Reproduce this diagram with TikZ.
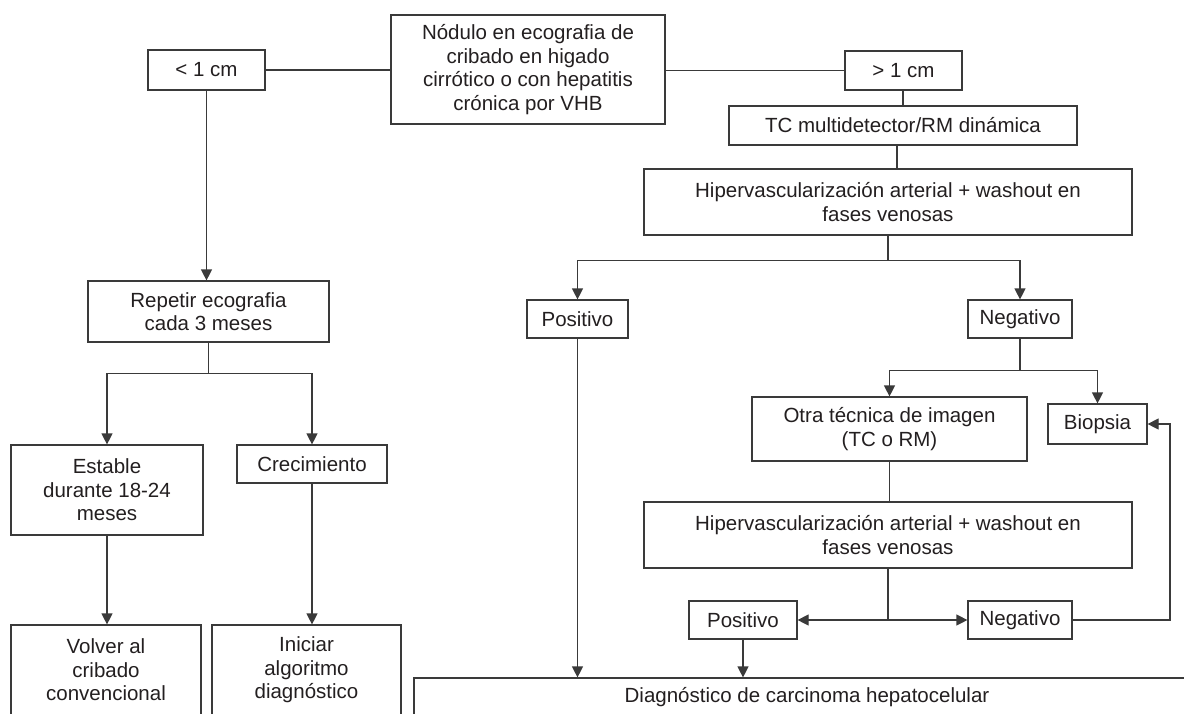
\documentclass[tikz,border=0pt]{standalone}
\usepackage{fontspec}
\setmainfont{Liberation Sans}
\usetikzlibrary{arrows.meta}
\definecolor{ink}{HTML}{231F20}
\definecolor{edge}{HTML}{3A3A3A}
\begin{document}
\begin{tikzpicture}[x=1pt,y=-1pt,
  box/.style={draw=edge,line width=1.2pt,rectangle,inner sep=0pt,align=center,
    text=ink,font=\fontsize{20.5}{23.5}\selectfont},
  link/.style={draw=edge,line width=1.2pt},
  arr/.style={link,-{Triangle[length=11pt,width=11pt]}}]
\useasboundingbox (0,0) rectangle (1184,713);
\clip (0,0) rectangle (1184,713);
\fill[white] (0,0) rectangle (1184,713);

% boxes: centre, width, height
\node[box,minimum width=274,minimum height=109] (top) at (528,69.5)
  {Nódulo en ecografia de\\cribado en higado\\cirrótico o con hepatitis\\crónica por VHB};
\node[box,minimum width=117,minimum height=40] (lt) at (206.5,70) {< 1 cm};
\node[box,minimum width=117,minimum height=39] (gt) at (903.5,70.5) {> 1 cm};
\node[box,minimum width=348,minimum height=39] (tc) at (903,125.5) {TC multidetector/RM dinámica};
\node[box,minimum width=488,minimum height=66] (hipa) at (888,202)
  {Hipervascularización arterial + washout en\\fases venosas};
\node[box,minimum width=101,minimum height=38] (posa) at (577.5,319) {Positivo};
\node[box,minimum width=104,minimum height=38] (nega) at (1020,319) {Negativo};
\node[box,minimum width=275,minimum height=64] (otra) at (889.5,429)
  {Otra técnica de imagen\\(TC o RM)};
\node[box,minimum width=99,minimum height=40] (bio) at (1097.5,424) {Biopsia};
\node[box,minimum width=488,minimum height=66] (hipb) at (888,535)
  {Hipervascularización arterial + washout en\\fases venosas};
\node[box,minimum width=108,minimum height=38] (posb) at (743,620) {Positivo};
\node[box,minimum width=104,minimum height=38] (negb) at (1020,620) {Negativo};
\node[box,minimum width=786,minimum height=38] (diag) at (807,697)
  {Diagnóstico de carcinoma hepatocelular};

\node[box,minimum width=241,minimum height=61] (rep) at (208.5,311.5)
  {Repetir ecografia\\cada 3 meses};
\node[box,minimum width=192,minimum height=90] (est) at (107,490)
  {Estable\\durante 18-24\\meses};
\node[box,minimum width=150,minimum height=38] (cre) at (312,464) {Crecimiento};
\node[box,minimum width=190,minimum height=90] (vol) at (106,670)
  {Volver al\\cribado\\convencional};
\node[box,minimum width=189,minimum height=90] (ini) at (306.5,670)
  {Iniciar\\algoritmo\\diagnóstico};

% right branch
\draw[link] (gt.west -| top.east) -- (gt.west);
\draw[link] (gt.south -| tc.north) -- (tc.north);
\coordinate (xtc) at (897,0);
\draw[link] (tc.south -| xtc) -- (hipa.north -| xtc);
\draw[link] (hipa.south) -- ++(0,25) coordinate (ja);
\draw[arr] (ja) -| (posa.north);
\draw[arr] (ja) -| (nega.north);
\draw[arr] (posa.south) -- (diag.north -| posa.south);
\draw[link] (nega.south) -- ++(0,32) coordinate (jb);
\draw[arr] (jb) -| (otra.north);
\draw[arr] (jb) -| (bio.north);
\draw[link] (otra.south) -- (hipb.north -| otra.south);
\draw[link] (hipb.south) -- (hipb.south |- posb.east) coordinate (jc);
\draw[arr] (jc) -- (posb.east);
\draw[arr] (jc) -- (negb.west);
\coordinate (xret) at (1170,0);
\draw[arr] (negb.east) -- (negb.east -| xret) |- (bio.east);
\draw[arr] (posb.south) -- (diag.north -| posb.south);

% left branch
\draw[link] (lt.east -| top.west) -- (lt.east);
\draw[arr] (lt.south) -- (rep.north -| lt.south);
\draw[link] (rep.south) -- ++(0,31) coordinate (jd);
\draw[arr] (jd) -| (est.north);
\draw[arr] (jd) -| (cre.north);
\draw[arr] (est.south) -- (vol.north -| est.south);
\draw[arr] (cre.south) -- (ini.north -| cre.south);
\end{tikzpicture}
\end{document}
